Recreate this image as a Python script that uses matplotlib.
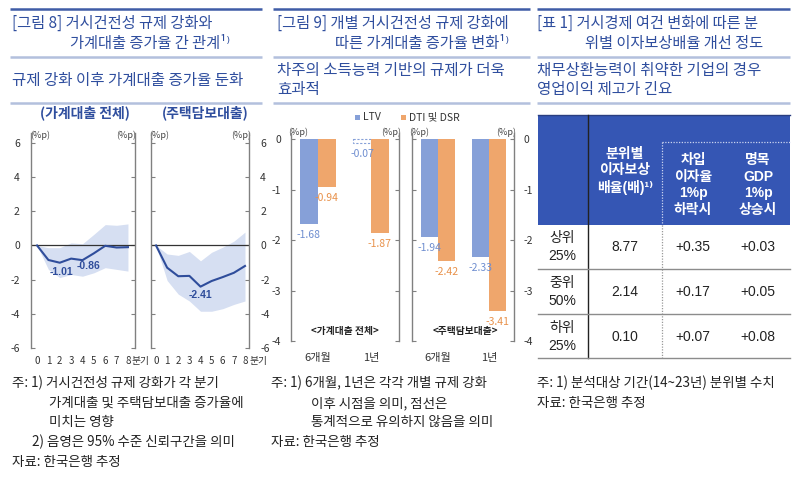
import matplotlib
matplotlib.use('Agg')
import matplotlib.pyplot as plt
from matplotlib.patches import Rectangle

plt.rcParams['font.family'] = ['Noto Sans CJK KR', 'DejaVu Sans']
plt.rcParams['axes.unicode_minus'] = False

# ---------------- data ----------------
quarters = [0, 1, 2, 3, 4, 5, 6, 7, 8]
total_est = [0, -0.85, -1.01, -0.77, -0.86, -0.46, -0.02, -0.12, -0.10]
total_hi = [0, -0.13, -0.13, 0.15, 0.10, 0.65, 1.22, 1.18, 1.26]
total_lo = [0, -1.40, -1.88, -1.70, -1.80, -1.60, -1.30, -1.40, -1.50]
mort_est = [0, -1.30, -1.80, -1.78, -2.41, -2.08, -1.85, -1.60, -1.20]
mort_hi = [0, -0.50, -0.58, -0.35, -0.90, -0.40, -0.10, 0.25, 0.78]
mort_lo = [0, -2.05, -2.85, -3.25, -3.85, -3.85, -3.70, -3.45, -3.25]
line_yticks = [-6, -4, -2, 0, 2, 4, 6]

periods = ['6개월', '1년']
ltv_total = [-1.68, -0.07]
dti_total = [-0.94, -1.87]
ltv_mort = [-1.94, -2.33]
dti_mort = [-2.42, -3.41]
ltv_total_sig = [True, False]
bar_yticks = [-4, -3, -2, -1, 0]

table_cols = ['분위별\n이자보상\n배율(배)¹⁾', '차입\n이자율\n1%p\n하락시', '명목\nGDP\n1%p\n상승시']
table_rows = ['상위\n25%', '중위\n50%', '하위\n25%']
icr = ['8.77', '2.14', '0.10']
rate_cut = ['+0.35', '+0.17', '+0.07']
gdp_up = ['+0.03', '+0.05', '+0.08']

# ---------------- style ----------------
W, H = 800, 478
TITLE = '#2F4E9E'
RULE_DARK = '#3F5CA6'
RULE_LIGHT = '#B3C0DD'
LINE = '#2F4D9B'
BAND = '#D6DFF2'
LTV_C = '#86A0D8'
DTI_C = '#EFA66C'
LTV_T = '#6F8ED0'
DTI_T = '#E8914A'
SPINE = '#808080'
HEAD = '#3556B4'
NARROW = ['Liberation Sans Narrow', 'Liberation Sans', 'Noto Sans CJK KR', 'DejaVu Sans']

fig = plt.figure(figsize=(8, 4.78), dpi=100)
deco = fig.add_axes([0, 0, 1, 1], zorder=0)
deco.set_xlim(0, W)
deco.set_ylim(H, 0)
deco.axis('off')


def add_ax(l, r, t, b):
    ax = fig.add_axes([l / W, 1 - b / H, (r - l) / W, (b - t) / H], zorder=2)
    ax.patch.set_alpha(0)
    return ax


def txt(x, y, s, **kw):
    kw.setdefault('va', 'center')
    kw.setdefault('ha', 'left')
    deco.text(x, y, s, **kw)


# rules
for x0, x1 in [(10, 262), (273, 530), (537, 790)]:
    deco.plot([x0, x1], [8.5, 8.5], color=RULE_DARK, lw=1.8, solid_capstyle='butt')
    deco.plot([x0, x1], [56.5, 56.5], color=RULE_LIGHT, lw=1.8, solid_capstyle='butt')
    deco.plot([x0, x1], [103, 103], color=RULE_LIGHT, lw=1.8, solid_capstyle='butt')

# titles
tk = dict(color=TITLE, fontsize=11, fontweight='medium')
sk = dict(color=TITLE, fontsize=11.2, fontweight='medium')
txt(12, 23, '[그림 8] 거시건전성 규제 강화와', **tk)
txt(70, 43, '가계대출 증가율 간 관계¹⁾', **tk)
txt(12, 80, '규제 강화 이후 가계대출 증가율 둔화', **sk)
txt(277, 23, '[그림 9] 개별 거시건전성 규제 강화에', **tk)
txt(335, 43, '따른 가계대출 증가율 변화¹⁾', **tk)
txt(277, 70, '차주의 소득능력 기반의 규제가 더욱', **sk)
txt(277, 89, '효과적', **sk)
txt(537, 23, '[표 1] 거시경제 여건 변화에 따른 분', **tk)
txt(585, 43, '위별 이자보상배율 개선 정도', **tk)
txt(537, 70, '채무상환능력이 취약한 기업의 경우', **sk)
txt(537, 89, '영업이익 제고가 긴요', **sk)

# ---------------- panel 1: line charts ----------------
txt(85, 113, '(가계대출 전체)', color=TITLE, fontsize=10, fontweight='bold', ha='center')
txt(205, 113, '(주택담보대출)', color=TITLE, fontsize=10, fontweight='bold', ha='center')

ax1 = add_ax(31, 135, 133, 348)
ax2 = add_ax(151, 249, 133, 348)
ax1.set_xlim(-0.53, 8.62)
ax2.set_xlim(-0.45, 8.36)
for ax, est, lo, hi in [(ax1, total_est, total_lo, total_hi), (ax2, mort_est, mort_lo, mort_hi)]:
    ax.set_ylim(-6, 6.58)
    ax.fill_between(quarters, lo, hi, color=BAND, lw=0)
    ax.axhline(0, color='#333333', lw=0.9)
    ax.plot(quarters, est, color=LINE, lw=1.5)
    for s in ['top', 'bottom']:
        ax.spines[s].set_visible(False)
    for s in ['left', 'right']:
        ax.spines[s].set_color(SPINE)
        ax.spines[s].set_linewidth(1.0)
    ax.set_yticks(line_yticks)
    ax.set_xticks(quarters)
    ax.tick_params(axis='y', direction='in', length=3, color=SPINE, left=True, right=True,
                   labelsize=7.5, labelcolor='#333333', pad=8)
    ax.tick_params(axis='x', length=0, labelsize=7, labelcolor='#333333', pad=6)
ax1.tick_params(axis='y', labelleft=True, labelright=False)
ax2.tick_params(axis='y', labelleft=False, labelright=True)

lab = dict(color=LINE, fontsize=7.5, fontweight='bold', ha='center', va='center',
           textcoords='offset pixels', family=NARROW)
ax1.annotate(f'{total_est[2]:.2f}', (quarters[2], total_est[2]), xytext=(2, -9), **lab)
ax1.annotate(f'{total_est[4]:.2f}', (quarters[4], total_est[4]), xytext=(6, -6), **lab)
ax2.annotate(f'{mort_est[4]:.2f}', (quarters[4], mort_est[4]), xytext=(0, -8), **lab)

pk = dict(fontsize=6.5, color='#444444', ha='center')
for x in (40, 126, 159, 241):
    txt(x, 135, '(%p)', **pk)
txt(132, 361, '분기', fontsize=7, color='#333333')
txt(249, 361, '분기', fontsize=7, color='#333333')

# ---------------- panel 2: bar charts ----------------
deco.add_patch(Rectangle((355, 114.5), 5, 5, color=LTV_C, lw=0))
txt(363, 117, 'LTV', fontsize=7.5, color='#333333')
deco.add_patch(Rectangle((401, 114.5), 5, 5, color=DTI_C, lw=0))
txt(409, 117, 'DTI 및 DSR', fontsize=7.5, color='#333333')

bx1 = add_ax(291, 399, 133, 341)
bx2 = add_ax(412, 514, 133, 341)
bx1.set_xlim(-0.51, 1.53)
bx2.set_xlim(-0.51, 1.49)
bw = 0.34
xs = [0, 1]
blab = dict(fontsize=7.5, ha='center', va='center', textcoords='offset pixels')
for ax, ltv, dti, sig in [(bx1, ltv_total, dti_total, ltv_total_sig),
                          (bx2, ltv_mort, dti_mort, [True, True])]:
    ax.set_ylim(-4, 0.12)
    for i, x in enumerate(xs):
        if sig[i]:
            ax.bar(x - bw / 2, ltv[i], width=bw, color=LTV_C, lw=0)
        else:
            ax.bar(x - bw / 2, ltv[i], width=bw, facecolor='none', edgecolor=LTV_C,
                   lw=0.8, linestyle=(0, (2, 1.5)))
        ax.bar(x + bw / 2, dti[i], width=bw, color=DTI_C, lw=0)
        ax.annotate(f'{ltv[i]:.2f}', (x - bw / 2, ltv[i]), xytext=(0, -11), color=LTV_T, **blab)
        ax.annotate(f'{dti[i]:.2f}', (x + bw / 2, dti[i]), xytext=(0, -11), color=DTI_T, **blab)
    for s in ['top', 'bottom']:
        ax.spines[s].set_visible(False)
    for s in ['left', 'right']:
        ax.spines[s].set_color(SPINE)
        ax.spines[s].set_linewidth(1.0)
    ax.set_yticks(bar_yticks)
    ax.set_xticks(xs)
    ax.set_xticklabels(periods)
    ax.tick_params(axis='y', direction='in', length=3, color=SPINE, left=True, right=True,
                   labelsize=7.5, labelcolor='#333333', pad=7)
    ax.tick_params(axis='x', length=0, labelsize=8, labelcolor='#333333', pad=9)
bx1.tick_params(axis='y', labelleft=True, labelright=False)
bx2.tick_params(axis='y', labelleft=False, labelright=True)

for x in (298, 391, 419, 506):
    txt(x, 132, '(%p)', **pk)
txt(345, 331, '<가계대출 전체>', fontsize=7, fontweight='bold', ha='center', color='#222222')
txt(465, 331, '<주택담보대출>', fontsize=7, fontweight='bold', ha='center', color='#222222')

# ---------------- panel 3: table ----------------
TL, TR, TT, HB, TB = 538, 790, 115, 225, 358
row_lines = [269, 314, 358]
row_centers = [247, 292, 337]
col_x = [562, 625, 693, 758]
deco.add_patch(Rectangle((TL, TT), TR - TL, HB - TT, color=HEAD, lw=0))
deco.plot([TL, TR], [TT, TT], color='#2A3E80', lw=1.0)
deco.plot([588, 588], [TT, TB], color='#222222', lw=1.0)
deco.plot([662, TR], [142, 142], color='#C9D3EE', lw=0.9, linestyle=(0, (1, 1.2)))
deco.plot([662, 662], [142, HB], color='#C9D3EE', lw=0.9, linestyle=(0, (1, 1.2)))
deco.plot([662, 662], [HB, TB], color='#999999', lw=0.9, linestyle=(0, (1, 1.2)))
for y in row_lines:
    deco.plot([TL, TR], [y, y], color='#8C8C8C', lw=1.0)

hk = dict(color='white', fontsize=10, ha='center', family=NARROW, linespacing=1.25,
          fontweight='bold')
txt(col_x[1], 171, table_cols[0], **hk)
txt(col_x[2], 185, table_cols[1], **hk)
txt(col_x[3], 185, table_cols[2], **hk)
bk = dict(color='#222222', fontsize=10, ha='center', family=NARROW)
for i, y in enumerate(row_centers):
    txt(col_x[0], y, table_rows[i], linespacing=1.3, **bk)
    txt(col_x[1], y, icr[i], **bk)
    txt(col_x[2], y, rate_cut[i], **bk)
    txt(col_x[3], y, gdp_up[i], **bk)

# ---------------- notes ----------------
nk = dict(fontsize=9.7, color='#222222')
txt(12, 383, '주: 1) 거시건전성 규제 강화가 각 분기', **nk)
txt(49, 403, '가계대출 및 주택담보대출 증가율에', **nk)
txt(49, 422, '미치는 영향', **nk)
txt(32, 442, '2) 음영은 95% 수준 신뢰구간을 의미', **nk)
txt(12, 462, '자료: 한국은행 추정', **nk)

txt(271, 383, '주: 1) 6개월, 1년은 각각 개별 규제 강화', **nk)
txt(311, 403, '이후 시점을 의미, 점선은', **nk)
txt(311, 422, '통계적으로 유의하지 않음을 의미', **nk)
txt(271, 442, '자료: 한국은행 추정', **nk)

txt(537, 383, '주: 1) 분석대상 기간(14~23년) 분위별 수치', **nk)
txt(537, 403, '자료: 한국은행 추정', **nk)

fig.savefig('out.png', dpi=100)
